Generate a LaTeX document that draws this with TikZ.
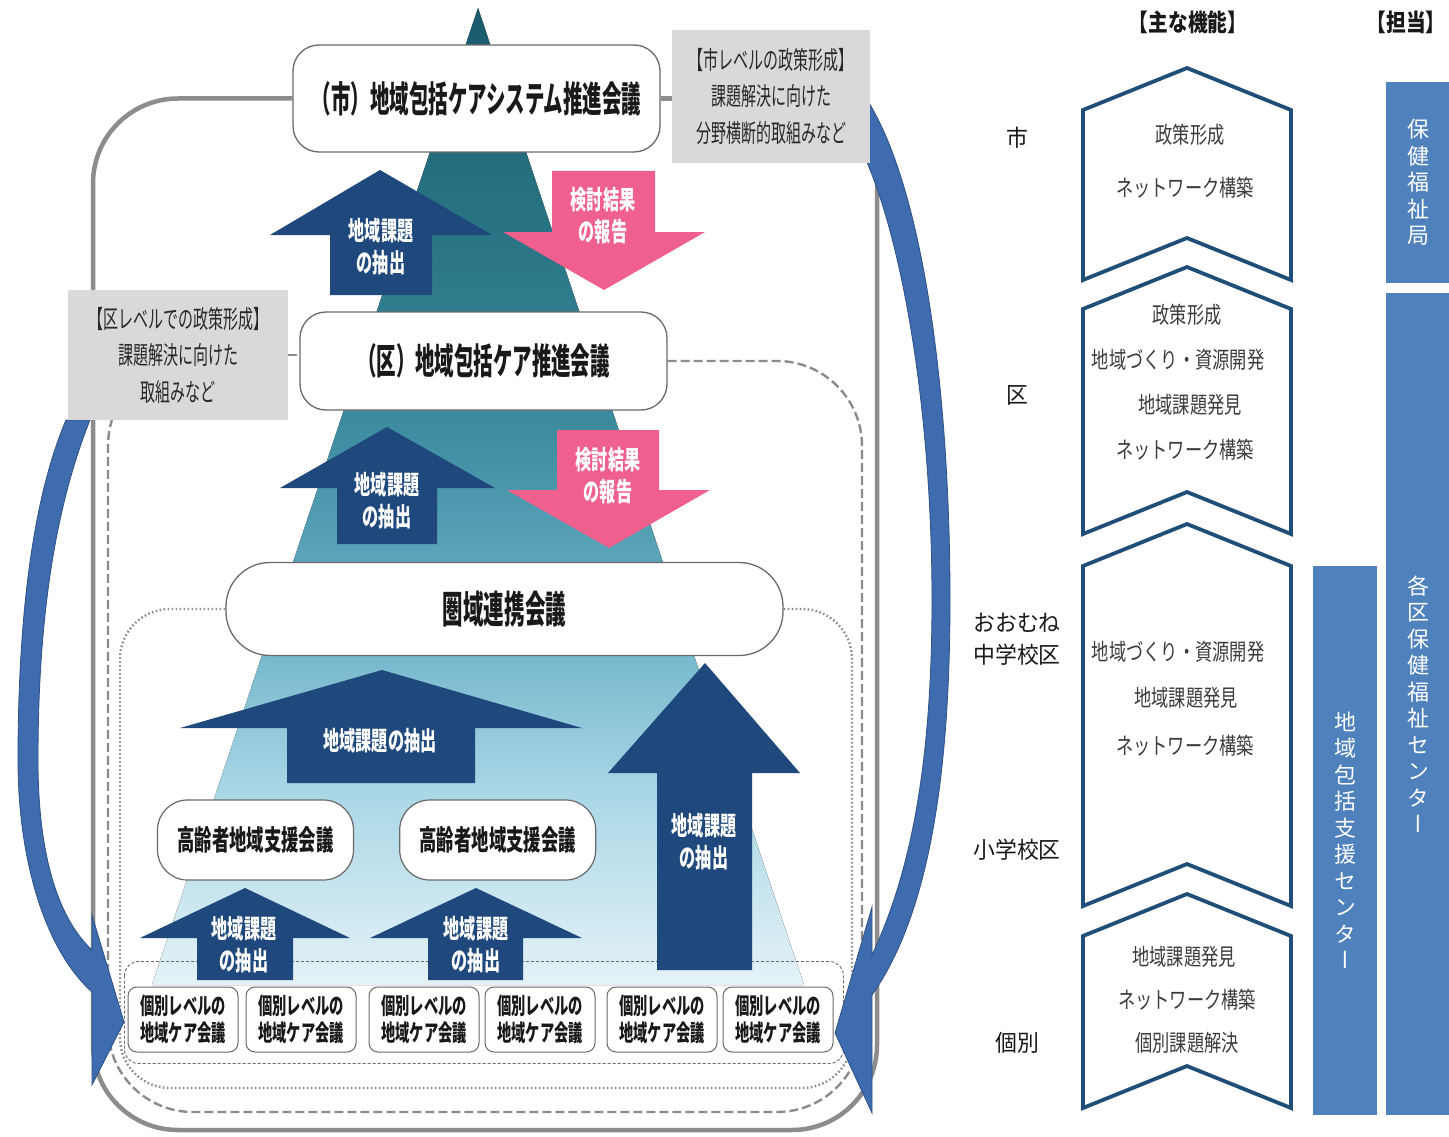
\documentclass[tikz,border=0pt]{standalone}
\usepackage{fontspec}
\usepackage{xcolor}
\usepackage{tikz}
\usetikzlibrary{positioning, calc}

\setmainfont{Noto Sans CJK JP}
\newfontfamily\titlef[FakeStretch=0.54]{Noto Sans CJK JP}
\newfontfamily\condb[FakeStretch=0.62]{Noto Sans CJK JP}
\newfontfamily\condr[FakeStretch=0.6]{Noto Sans CJK JP}
\newfontfamily\chevf[FakeStretch=0.75]{Noto Sans CJK JP}
\newfontfamily\levelf[FakeStretch=0.95]{Noto Sans CJK JP}
\newfontfamily\headf[FakeStretch=0.82]{Noto Sans CJK JP}
\newfontfamily\vertf[RawFeature=+vert]{Noto Sans CJK JP}

\definecolor{navy}{RGB}{31,73,125}
\definecolor{pinkc}{RGB}{240,96,142}
\definecolor{barblue}{RGB}{79,129,189}
\definecolor{cblue}{RGB}{62,108,175}
\definecolor{chevline}{RGB}{31,78,121}
\definecolor{notegray}{RGB}{217,217,217}
\definecolor{framegray}{RGB}{140,140,140}
\definecolor{boxline}{RGB}{105,105,105}
\definecolor{textc}{RGB}{25,25,25}
\definecolor{notetext}{RGB}{40,40,40}
\definecolor{chevtextc}{RGB}{60,60,60}
\definecolor{pyr0}{RGB}{228,242,247}
\definecolor{pyr1}{RGB}{172,216,231}
\definecolor{pyr2}{RGB}{128,190,210}
\definecolor{pyr3}{RGB}{86,160,182}
\definecolor{pyr4}{RGB}{62,140,160}
\definecolor{pyr5}{RGB}{46,124,140}
\definecolor{pyr6}{RGB}{36,108,124}
\definecolor{pyr7}{RGB}{25,90,108}

\pgfdeclareverticalshading{pyr}{100bp}{color(0bp)=(pyr0); color(25bp)=(pyr0);
  color(34.5bp)=(pyr1); color(40.6bp)=(pyr2); color(47.8bp)=(pyr3); color(53.4bp)=(pyr4);
  color(60bp)=(pyr5); color(67.7bp)=(pyr6); color(75bp)=(pyr7); color(100bp)=(pyr7)}

\pgfdeclarelayer{back}
\pgfdeclarelayer{mid}
\pgfsetlayers{back,mid,main}

\begin{document}
\begin{tikzpicture}[x=1pt, y=-1pt,
	bigbox/.style={draw=boxline, line width=1.3pt, fill=white, rounded corners=26pt,
		inner sep=0pt, text=textc, font=\titlef\bfseries\fontsize{36pt}{40pt}\selectfont},
	elderbox/.style={draw=boxline, line width=1.2pt, fill=white, rounded corners=30pt,
		minimum width=196pt, minimum height=80pt, inner sep=0pt, text=textc,
		font=\condb\bfseries\fontsize{28pt}{32pt}\selectfont},
	indbox/.style={draw=boxline, line width=1pt, fill=white, rounded corners=9pt,
		minimum width=110pt, minimum height=65pt, inner sep=0pt, align=center,
		text=textc, font=\condb\bfseries\fontsize{23pt}{27pt}\selectfont},
	notebox/.style={fill=notegray, inner sep=0pt, align=center, text=notetext,
		font=\condr\fontsize{25pt}{36.5pt}\selectfont},
	upbody/.style={fill=navy},
	downbody/.style={fill=pinkc},
	arrtext/.style={text=white, align=center,
		font=\condb\bfseries\fontsize{26pt}{32pt}\selectfont},
	cityframe/.style={draw=framegray, line width=4.5pt, rounded corners=85pt},
	wardframe/.style={draw=framegray, line width=2.4pt, dash pattern=on 9pt off 4pt,
		rounded corners=85pt},
	areaframe/.style={draw=framegray, line width=2.4pt, dash pattern=on 1.6pt off 2.4pt,
		rounded corners=50pt},
	indframe/.style={draw=boxline, line width=0.9pt, dash pattern=on 3pt off 2pt,
		rounded corners=14pt},
	curvearr/.style={fill=cblue, draw=cblue!75!black, line width=0.8pt},
	chevron/.style={draw=chevline, fill=white, line width=3.8pt, line join=miter},
	chevtext/.style={text=chevtextc, font=\chevf\fontsize{23pt}{26pt}\selectfont},
	level/.style={text=textc, align=center, font=\levelf\fontsize{23pt}{32pt}\selectfont},
	header/.style={text=textc, font=\headf\bfseries\fontsize{24pt}{28pt}\selectfont},
	bar/.style={fill=barblue, inner sep=0pt, align=center, text=white,
		font=\vertf\fontsize{22pt}{26.5pt}\selectfont},
	]
	\useasboundingbox (0,0) rectangle (1449,1137);
	
	% Pyramid
	\begin{pgfonlayer}{back}
		\fill[white] (0,0) rectangle (1449,1137);
		\fill[shading=pyr] (478,8) -- (152,985) -- (804,985) -- cycle;
	\end{pgfonlayer}
	
	% Meetings
	\node[bigbox, minimum width=367pt, minimum height=107pt] (city) at (476.5,98.5) {（市）地域包括ケアシステム推進会議};
	\node[bigbox, minimum width=367pt, minimum height=98pt] (ward) at (483.5,361) {（区）地域包括ケア推進会議};
	\node[bigbox, rounded corners=44pt, minimum width=557pt, minimum height=93pt,
	font=\titlef\bfseries\fontsize{38pt}{42pt}\selectfont] (area) at (504.5,609) {圏域連携会議};
	\node[elderbox] (elder1) at (255.5,840) {高齢者地域支援会議};
	\node[elderbox, right=45pt of elder1] (elder2) {高齢者地域支援会議};
	
	\node[indbox] (ind1) at (183,1019.5) {個別レベルの\\地域ケア会議};
	\node[indbox, right=7pt of ind1] (ind2) {個別レベルの\\地域ケア会議};
	\node[indbox, right=12pt of ind2] (ind3) {個別レベルの\\地域ケア会議};
	\node[indbox, right=5pt of ind3] (ind4) {個別レベルの\\地域ケア会議};
	\node[indbox, right=11pt of ind4] (ind5) {個別レベルの\\地域ケア会議};
	\node[indbox, right=5pt of ind5] (ind6) {個別レベルの\\地域ケア会議};
	
	% Policy notes
	\node[notebox, minimum width=198pt, minimum height=133pt] (citynote) at (771,96.5)
	{【市レベルの政策形成】\\課題解決に向けた\\分野横断的取組みなど};
	\node[notebox, minimum width=220pt, minimum height=130pt] (wardnote) at (178,355)
	{【区レベルでの政策形成】\\課題解決に向けた\\取組みなど};
	
	% Frames and return arrows
	\begin{pgfonlayer}{mid}
		\draw[cityframe] (city.west) -| (93,1130) -| (877,98.5) -- (citynote.center);
		\draw[cityframe] (city.east) -- (city.east -| citynote.west);
		\draw[wardframe] (ward.east) -| (862,1112) -| (108,361) -- (wardnote.center);
		\draw[wardframe] (wardnote.east) -- (wardnote.east -| ward.west);
		\draw[areaframe] (area.east) -| (852,1088) -| (120,609) -- (area.west);
		\draw[indframe] ($(ind1.north west)+(-3,-25)$) rectangle ($(ind6.south east)+(10,11)$);
		
		\filldraw[curvearr] (90,420) .. controls (50,520) and (38,640) .. (38,760)
		.. controls (38,860) and (60,920) .. (92,950) -- (92,915) -- (124,1022) -- (92,1085)
		-- (92,992) .. controls (45,950) and (18,860) .. (18,760)
		.. controls (18,620) and (32,500) .. (66,420) -- cycle;
		\filldraw[curvearr] (866,98) .. controls (925,190) and (950,400) .. (950,600)
		.. controls (950,790) and (925,920) .. (872,995) -- (872,1113) -- (835,1033)
		-- (872,907) -- (872,955) .. controls (912,870) and (932,760) .. (932,600)
		.. controls (932,420) and (905,250) .. (866,160) -- cycle;
	\end{pgfonlayer}
	
	% Block arrows
	\fill[upbody] (380,170) -- (492,235) -- (432,235) -- (432,295) -- (330,295) -- (330,235) -- (270,235) -- cycle;
	\node[arrtext] (up1) at (381,247) {地域課題\\の抽出};
	\fill[downbody] (552,171) -- (655,171) -- (655,232) -- (705,232) -- (604,290) -- (503,232) -- (552,232) -- cycle;
	\node[arrtext] (down1) at (603,216) {検討結果\\の報告};
	\fill[upbody] (387,427) -- (495,488) -- (437,488) -- (437,544) -- (337,544) -- (337,488) -- (280,488) -- cycle;
	\node[arrtext] (up2) at (387,501) {地域課題\\の抽出};
	\fill[downbody] (557,430) -- (659,430) -- (659,490) -- (710,490) -- (609,548) -- (507,490) -- (557,490) -- cycle;
	\node[arrtext] (down2) at (608,476) {検討結果\\の報告};
	\fill[upbody] (382,670) -- (582,728) -- (475,728) -- (475,783) -- (287,783) -- (287,728) -- (180,728) -- cycle;
	\node[arrtext] (up3) at (380,741) {地域課題の抽出};
	\fill[upbody] (705,663) -- (800,773) -- (752,773) -- (752,970) -- (657,970) -- (657,773) -- (608,773) -- cycle;
	\node[arrtext] (up4) at (704,842) {地域課題\\の抽出};
	\fill[upbody] (245,888) -- (350,938) -- (293,938) -- (293,980) -- (197,980) -- (197,938) -- (140,938) -- cycle;
	\node[arrtext] (up5) at (244,945) {地域課題\\の抽出};
	\fill[upbody] (476,888) -- (582,938) -- (523,938) -- (523,980) -- (428,980) -- (428,938) -- (370,938) -- cycle;
	\node[arrtext] (up6) at (476,945) {地域課題\\の抽出};
	
	% Functions
	\node[header] (hfunc) at (1188,22) {【主な機能】};
	\node[header] (hstaff) at (1406,22) {【担当】};
	\foreach \t/\b in {68/280, 267/534, 524/906, 894/1108}
	\draw[chevron] (1083,\t+42) -- (1187,\t) -- (1291,\t+42) -- (1291,\b) -- (1187,\b-42) -- (1083,\b) -- cycle;
	
	\node[chevtext] (f11) at (1190,135) {政策形成};
	\node[chevtext] (f12) at (1185,188) {ネットワーク構築};
	\node[chevtext] (f21) at (1187,315) {政策形成};
	\node[chevtext] (f22) at (1178,360) {地域づくり・資源開発};
	\node[chevtext] (f23) at (1190,405) {地域課題発見};
	\node[chevtext] (f24) at (1185,450) {ネットワーク構築};
	\node[chevtext] (f31) at (1178,652) {地域づくり・資源開発};
	\node[chevtext] (f32) at (1186,698) {地域課題発見};
	\node[chevtext] (f33) at (1185,746) {ネットワーク構築};
	\node[chevtext] (f41) at (1184,957) {地域課題発見};
	\node[chevtext] (f42) at (1187,1000) {ネットワーク構築};
	\node[chevtext] (f43) at (1187,1043) {個別課題解決};
	
	% Levels
	\node[level] (lcity) at (1017,138) {市};
	\node[level] (lward) at (1017,395) {区};
	\node[level] (ljhs) at (1017,639) {おおむね\\中学校区};
	\node[level] (lels) at (1017,850) {小学校区};
	\node[level] (lind) at (1017,1043) {個別};
	
	% Staff
	\node[bar, minimum width=64pt, minimum height=201pt] (bureau) at (1418,182.5) {保\\健\\福\\祉\\局};
	\node[bar, minimum width=64pt, minimum height=822pt] (wardctr) at (1418,704) {各\\区\\保\\健\\福\\祉\\セ\\ン\\タ\\ー};
	\node[bar, minimum width=64pt, minimum height=549pt] (support) at (1345,840.5) {地\\域\\包\\括\\支\\援\\セ\\ン\\タ\\ー};
\end{tikzpicture}
\end{document}
